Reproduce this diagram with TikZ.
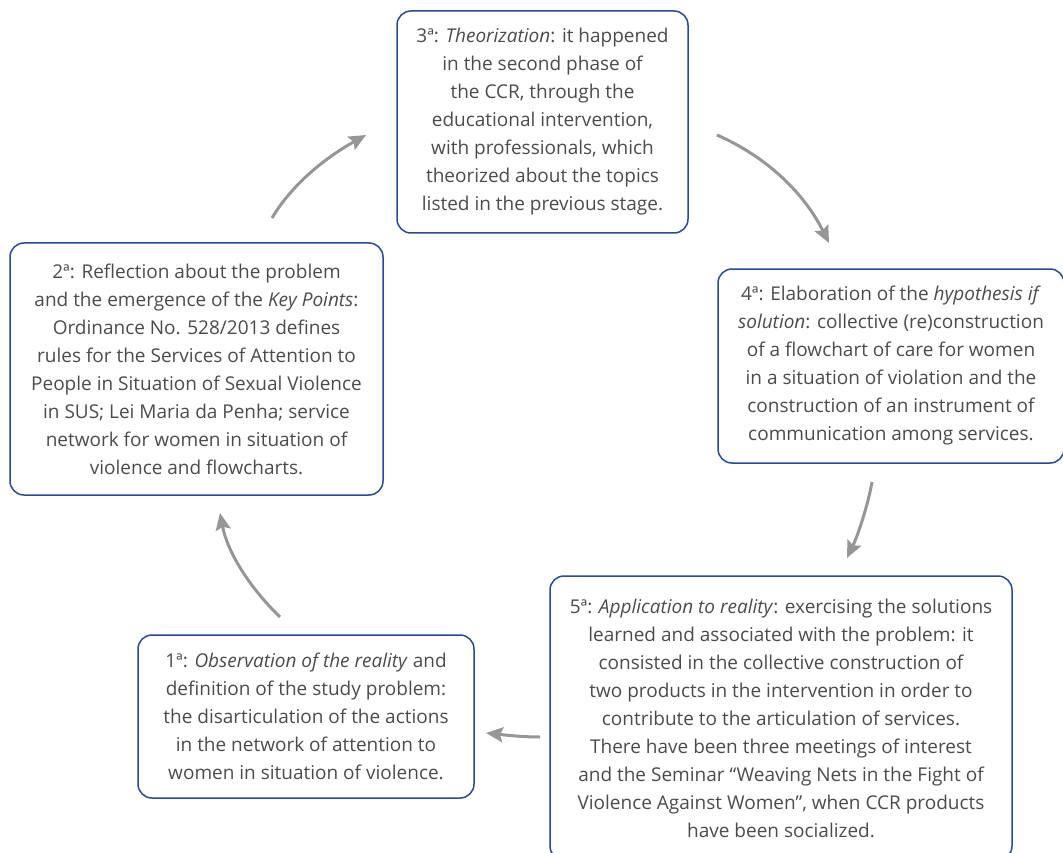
\documentclass[tikz,border=0pt]{standalone}
\usepackage{fontspec}
\setmainfont{Open Sans}
\usetikzlibrary{arrows.meta}
\definecolor{boxblue}{RGB}{35,75,160}
\definecolor{txtgray}{RGB}{75,75,75}
\definecolor{arrgray}{RGB}{150,150,150}
\tikzset{
  stagebox/.style={draw=boxblue, line width=1.5pt, rounded corners=14pt,
    align=center, text=txtgray, inner sep=0pt,
    font=\fontsize{19}{28}\selectfont},
  cyclearrow/.style={draw=arrgray, line width=3pt,
    -{Stealth[length=17pt,width=15pt,inset=3pt]}}
}
\begin{document}
\begin{tikzpicture}[x=1pt,y=-1pt]
\useasboundingbox (0,0) rectangle (1063,853);
\begin{scope}
\clip (0,0) rectangle (1063,853);
\node[stagebox, minimum width=336pt, minimum height=163pt] (b1) at (306,716.5)
 {1ª: \textit{Observation of the reality} and\\
  definition of the study problem:\\
  the disarticulation of the actions\\
  in the network of attention to\\
  women in situation of violence.};
\node[stagebox, minimum width=373pt, minimum height=252pt] (b2) at (196.5,369)
 {2ª: Reflection about the problem\\
  and the emergence of the \textit{Key Points}:\\
  Ordinance No. 528/2013 defines\\
  rules for the Services of Attention to\\
  People in Situation of Sexual Violence\\
  in SUS; Lei Maria da Penha; service\\
  network for women in situation of\\
  violence and flowcharts.};
\node[stagebox, minimum width=291pt, minimum height=222pt] (b3) at (542.5,122)
 {3ª: \textit{Theorization}: it happened\\
  in the second phase of\\
  the CCR, through the\\
  educational intervention,\\
  with professionals, which\\
  theorized about the topics\\
  listed in the previous stage.};
\node[stagebox, minimum width=346pt, minimum height=194pt] (b4) at (891,366)
 {4ª: Elaboration of the \textit{hypothesis if}\\
  \textit{solution}: collective (re)construction\\
  of a flowchart of care for women\\
  in a situation of violation and the\\
  construction of an instrument of\\
  communication among services.};
\node[stagebox, minimum width=462pt, minimum height=284pt] (b5) at (781,718)
 {5ª: \textit{Application to reality}: exercising the solutions\\
  learned and associated with the problem: it\\
  consisted in the collective construction of\\
  two products in the intervention in order to\\
  contribute to the articulation of services.\\
  There have been three meetings of interest\\
  and the Seminar “Weaving Nets in the Fight of\\
  Violence Against Women”, when CCR products\\
  have been socialized.};
\end{scope}
\coordinate (s23) at (272,218);
\coordinate (e23) at (366,135);
\coordinate (s34) at (717,135);
\coordinate (e34) at (829,243);
\coordinate (s45) at (872,482);
\coordinate (e45) at (847,558);
\coordinate (s51) at (540,737);
\coordinate (e51) at (486,733);
\coordinate (s12) at (280,617);
\coordinate (e12) at (220,513);
\draw[cyclearrow] (s23) .. controls (291,186) and (323,159) .. (e23);
\draw[cyclearrow] (s34) .. controls (767,157) and (804,193) .. (e34);
\draw[cyclearrow] (s45) .. controls (868,505) and (858,535) .. (e45);
\draw[cyclearrow] (s51) .. controls (522,737) and (505,735) .. (e51);
\draw[cyclearrow] (s12) .. controls (247,585) and (227,550) .. (e12);
\end{tikzpicture}
\end{document}
